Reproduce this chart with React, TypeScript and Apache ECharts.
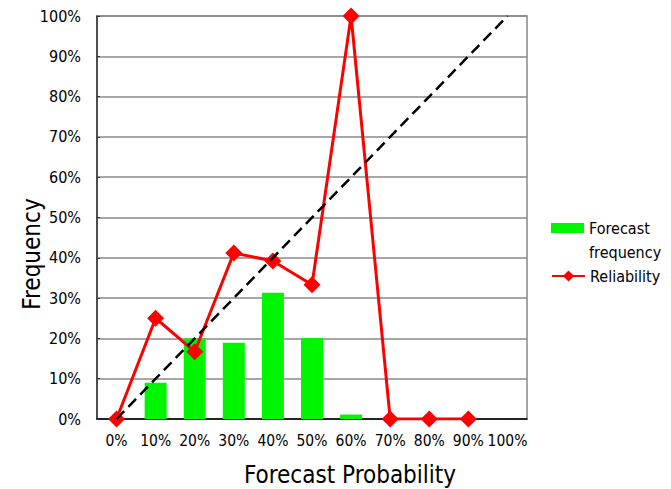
import React, { useEffect, useRef } from "react";
import * as echarts from "echarts";

const categories = ["0%", "10%", "20%", "30%", "40%", "50%", "60%", "70%", "80%", "90%", "100%"];
// Share of forecasts issued in each probability bin (%)
const forecastFrequency = [null, 9.0, 20.0, 18.9, 31.3, 20.1, 1.1, null, null, null, null];
// Observed relative frequency per bin (%)
const reliability = [0, 25.0, 16.7, 41.2, 39.2, 33.3, 100, 0, 0, 0, null];
// Perfect-reliability reference: from (0%, 0) to (100%, 100)
const diagonalStart = ["0%", 0];
const diagonalEnd = ["100%", 100];

const FONT = "'DejaVu Sans Condensed', 'DejaVu Sans', sans-serif";

export default function App() {
  const ref = useRef<HTMLDivElement>(null);

  useEffect(() => {
    if (!ref.current) return;
    const chart = echarts.init(ref.current, null, { renderer: "svg" });
    chart.setOption({
      animation: false,
      backgroundColor: "#ffffff",
      textStyle: { fontFamily: FONT },
      grid: {
        left: 97,
        top: 16,
        width: 430,
        height: 403,
        show: true,
        borderColor: "#888888",
        borderWidth: 1.5,
        backgroundColor: "transparent",
      },
      legend: [
        {
          left: 551,
          top: 192,
          padding: 0,
          orient: "vertical",
          itemWidth: 33,
          itemHeight: 10,
          data: [{ name: "Forecast frequency", icon: "rect" }],
          formatter: () => "\u00a0\nForecast\nfrequency",
          textStyle: {
            fontFamily: FONT,
            fontSize: 16,
            color: "#000",
            lineHeight: 24,
          },
        },
        {
          left: 551,
          top: 264,
          padding: 0,
          orient: "vertical",
          itemWidth: 33,
          itemHeight: 14,
          data: ["Reliability"],
          textStyle: { fontFamily: FONT, fontSize: 16, color: "#000", lineHeight: 24 },
        },
      ],
      xAxis: {
        type: "category",
        data: categories,
        boundaryGap: true,
        axisLine: { lineStyle: { color: "#000", width: 1.5 } },
        axisTick: { inside: true, length: 4, alignWithLabel: false, lineStyle: { color: "#000" } },
        axisLabel: { interval: 0, fontFamily: FONT, fontSize: 15.5, color: "#000", margin: 14 },
        splitLine: { show: false },
      },
      yAxis: {
        type: "value",
        min: 0,
        max: 100,
        interval: 10,
        axisLine: { show: true, lineStyle: { color: "#333", width: 1.5 } },
        axisTick: { show: true, inside: true, length: 3, lineStyle: { color: "#333" } },
        axisLabel: {
          fontFamily: FONT,
          fontSize: 16,
          color: "#000",
          margin: 16,
          formatter: (v: number) => `${v}%`,
        },
        splitLine: { lineStyle: { color: "#888888", width: 1.5 } },
      },
      series: [
        {
          name: "Forecast frequency",
          type: "bar",
          data: forecastFrequency,
          barWidth: 22,
          itemStyle: { color: "#00f500" },
          markLine: {
            silent: true,
            symbol: "none",
            label: { show: false },
            lineStyle: { color: "#000", width: 2.5, type: [11, 6] },
            data: [[{ coord: diagonalStart }, { coord: diagonalEnd }]],
          },
        },
        {
          name: "Reliability",
          type: "line",
          data: reliability,
          symbol: "diamond",
          symbolSize: 17,
          color: "#ff0000",
          lineStyle: { color: "#ff0000", width: 3 },
          itemStyle: { color: "#ff0000" },
        },
      ],
      graphic: [
        {
          type: "text",
          x: 32,
          y: 254,
          rotation: Math.PI / 2,
          style: {
            text: "Frequency",
            font: `24px ${FONT}`,
            fill: "#000",
            align: "center",
            verticalAlign: "middle",
          },
        },
        {
          type: "text",
          x: 350,
          y: 475,
          style: {
            text: "Forecast Probability",
            font: `24px ${FONT}`,
            fill: "#000",
            align: "center",
            verticalAlign: "middle",
          },
        },
      ],
    });
    return () => chart.dispose();
  }, []);

  return (
    <div
      ref={ref}
      style={{ position: "fixed", left: 0, top: 0, width: 671, height: 489 }}
    />
  );
}
